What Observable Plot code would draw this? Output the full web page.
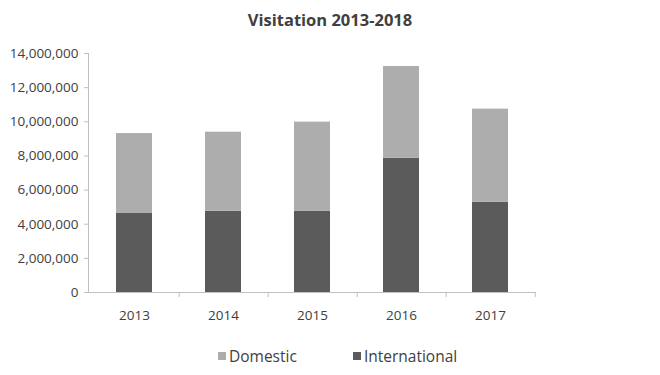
<!DOCTYPE html>
<html>
<head>
<meta charset="utf-8">
<script src="https://cdn.jsdelivr.net/npm/d3@7"></script>
<script src="https://cdn.jsdelivr.net/npm/@observablehq/plot@0.6"></script>
<style>
  body { margin: 0; background: #fff; font-family: "Open Sans", sans-serif; }
  #title { height: 36px; line-height: 40px; text-align: center; font-weight: bold; font-size: 16.5px; color: #404040; }
  #legend { height: 39px; display: flex; justify-content: flex-start; align-items: center; font-size: 15.5px; color: #404040; padding-left: 218px; box-sizing: border-box; }
  .item { display: flex; align-items: center; }
  .item + .item { margin-left: 56px; }
  .sw { width: 8px; height: 8px; margin-right: 3px; }
</style>
</head>
<body>
<div id="title">Visitation 2013-2018</div>
<div id="chart"></div>
<div id="legend"></div>
<script>
const years = ["2013", "2014", "2015", "2016", "2017"];
const international = [4630000, 4760000, 4750000, 7870000, 5290000];
const domestic = [4680000, 4630000, 5230000, 5370000, 5450000];
const seriesNames = ["Domestic", "International"];
const seriesColors = ["#adadad", "#5b5b5b"];
const yTicks = [0, 2000000, 4000000, 6000000, 8000000, 10000000, 12000000, 14000000];

const rows = [];
years.forEach((yr, i) => {
  rows.push({year: yr, series: "International", value: international[i]});
  rows.push({year: yr, series: "Domestic", value: domestic[i]});
});

const W = 660, H = 300, ML = 88, MR = 125;
const step = (W - ML - MR) / years.length;

const chart = Plot.plot({
  width: W,
  height: H,
  marginLeft: ML,
  marginRight: MR,
  marginTop: 17,
  marginBottom: 44,
  style: {fontFamily: "Open Sans, sans-serif", fontSize: "13.5px", color: "#404040", background: "#fff"},
  x: {domain: years, paddingInner: 0.6, paddingOuter: 0.3, label: null},
  y: {domain: [0, 14000000], label: null},
  color: {domain: seriesNames, range: seriesColors},
  marks: [
    Plot.barY(rows, {x: "year", y: "value", fill: "series", order: ["International", "Domestic"]}),
    Plot.frame({anchor: "left", stroke: "#bfbfbf"}),
    Plot.frame({anchor: "bottom", stroke: "#bfbfbf"}),
    Plot.ruleX(years, {x: d => d, dx: step / 2, y1: 0, y2: 0, insetBottom: -5, stroke: "#bfbfbf"}),
    Plot.axisY({ticks: yTicks, tickFormat: d3.format(","), tickSize: 4, tickPadding: 6, stroke: "#bfbfbf", color: "#404040", fontSize: 13.5, label: null}),
    Plot.axisX({tickSize: 0, tickPadding: 18, color: "#404040", fontSize: 13.5, label: null})
  ]
});
document.getElementById("chart").appendChild(chart);

const legend = document.getElementById("legend");
seriesNames.forEach((n, i) => {
  const it = document.createElement("div");
  it.className = "item";
  const sw = document.createElement("span");
  sw.className = "sw";
  sw.style.background = seriesColors[i];
  const t = document.createElement("span");
  t.textContent = n;
  it.appendChild(sw); it.appendChild(t);
  legend.appendChild(it);
});
</script>
</body>
</html>
